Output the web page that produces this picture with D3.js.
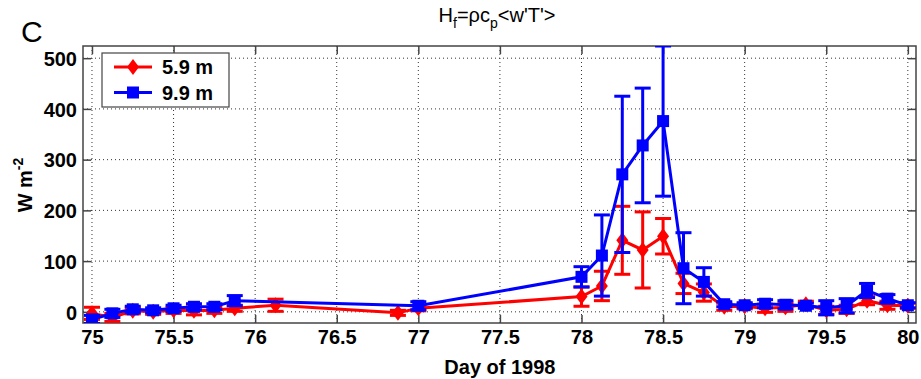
<!DOCTYPE html>
<html>
<head>
<meta charset="utf-8">
<script src="https://cdn.jsdelivr.net/npm/d3@7"></script>
<style>
  html, body { margin: 0; padding: 0; background: #fff; }
  svg { display: block; }
  text { font-family: "Liberation Sans", Arial, sans-serif; }
</style>
</head>
<body>
<svg id="chart" width="921" height="379"></svg>
<script>
// ---- data ----
const seriesNames = ["5.9 m", "9.9 m"];
const seriesColors = ["#ff0000", "#0000ff"];

const daysRed = [75.0, 75.125, 75.25, 75.375, 75.5, 75.625, 75.75, 75.875, 76.125, 76.875, 77.0,
                 78.0, 78.125, 78.25, 78.375, 78.5, 78.625, 78.75, 78.875,
                 79.0, 79.125, 79.25, 79.375, 79.5, 79.625, 79.75, 79.875, 80.0];
const valuesRed = [-3, -11, 2, 0, 3, 2, 3, 7, 13, -2, 7,
                   30, 51, 141, 122, 149, 56, 38, 10,
                   11, 7, 9, 15, 3, 5, 22, 13, 12];
const errorsRed = [12, 8, 6, 5, 6, 8, 6, 6, 12, 5, 5,
                   19, 29, 67, 75, 35, 20, 17, 7,
                   5, 8, 8, 6, 8, 8, 8, 8, 5];

const daysBlue = [75.0, 75.125, 75.25, 75.375, 75.5, 75.625, 75.75, 75.875, 77.0,
                  78.0, 78.125, 78.25, 78.375, 78.5, 78.625, 78.75, 78.875,
                  79.0, 79.125, 79.25, 79.375, 79.5, 79.625, 79.75, 79.875, 80.0];
const valuesBlue = [-15, -3, 5, 3, 7, 10, 10, 22, 12,
                    69, 111, 271, 328, 376, 86, 59, 15,
                    13, 16, 14, 12, 8, 12, 42, 26, 13];
const errorsBlue = [8, 8, 6, 5, 6, 6, 6, 10, 8,
                    20, 80, 154, 113, 148, 70, 28, 5,
                    5, 8, 8, 5, 14, 14, 14, 8, 5];

const xTicks = [75, 75.5, 76, 76.5, 77, 77.5, 78, 78.5, 79, 79.5, 80];
const yTicks = [0, 100, 200, 300, 400, 500];

// ---- layout ----
const svg = d3.select("#chart");
const L = 83, R = 916, T = 46, B = 323;
const x = d3.scaleLinear().domain([74.945, 80.05]).range([L, R]);
const y = d3.scaleLinear().domain([-22, 524]).range([B, T]);

svg.append("defs").append("clipPath").attr("id", "clip")
  .append("rect").attr("x", L).attr("y", T).attr("width", R - L).attr("height", B - T);

// grid
const grid = svg.append("g").attr("stroke", "#333").attr("stroke-width", 1)
  .attr("stroke-dasharray", "1,3");
grid.selectAll(".gx").data(xTicks).join("line")
  .attr("x1", d => x(d)).attr("x2", d => x(d)).attr("y1", T).attr("y2", B);
grid.selectAll(".gy").data(yTicks).join("line")
  .attr("x1", L).attr("x2", R).attr("y1", d => y(d)).attr("y2", d => y(d));

// axes
const axisColor = "#444";
const xAxisB = svg.append("g").attr("transform", `translate(0,${B})`)
  .call(d3.axisBottom(x).tickValues(xTicks).tickSizeInner(-8).tickSizeOuter(0).tickPadding(7)
    .tickFormat(d3.format("")));
const xAxisT = svg.append("g").attr("transform", `translate(0,${T})`)
  .call(d3.axisTop(x).tickValues(xTicks).tickSizeInner(-8).tickSizeOuter(0).tickFormat(""));
const yAxisL = svg.append("g").attr("transform", `translate(${L},0)`)
  .call(d3.axisLeft(y).tickValues(yTicks).tickSizeInner(-8).tickSizeOuter(0).tickPadding(6));
const yAxisR = svg.append("g").attr("transform", `translate(${R},0)`)
  .call(d3.axisRight(y).tickValues(yTicks).tickSizeInner(-8).tickSizeOuter(0).tickFormat(""));
[xAxisB, xAxisT, yAxisL, yAxisR].forEach(a => {
  a.selectAll("path").remove();
  a.selectAll("line").attr("stroke", axisColor).attr("stroke-width", 1.5);
  a.selectAll("text").attr("fill", "#000").style("font-size", "20px").style("font-weight", "bold")
    .style("font-family", "'Liberation Sans', Arial, sans-serif");
});
yAxisL.selectAll("text").attr("dy", "0.36em");
svg.append("rect").attr("x", L).attr("y", T).attr("width", R - L).attr("height", B - T)
  .attr("fill", "none").attr("stroke", axisColor).attr("stroke-width", 1.5);

// series
const series = [
  {days: daysRed, vals: valuesRed, errs: errorsRed, color: seriesColors[0], shape: "diamond"},
  {days: daysBlue, vals: valuesBlue, errs: errorsBlue, color: seriesColors[1], shape: "square"}
];
const plot = svg.append("g").attr("clip-path", "url(#clip)");
const line = d3.line().x(d => x(d[0])).y(d => y(d[1]));
const capW = 8;
function marker(sel, shape, cx, cy, color) {
  if (shape === "square") {
    sel.append("rect").attr("x", cx - 6).attr("y", cy - 6).attr("width", 12).attr("height", 12)
      .attr("fill", color);
  } else {
    sel.append("path").attr("d", `M${cx},${cy - 8}L${cx + 6},${cy}L${cx},${cy + 8}L${cx - 6},${cy}Z`)
      .attr("fill", color);
  }
}
series.forEach(s => {
  const pts = s.days.map((d, i) => [d, s.vals[i], s.errs[i]]);
  const g = plot.append("g");
  g.append("path").datum(pts).attr("d", line).attr("fill", "none")
    .attr("stroke", s.color).attr("stroke-width", 3);
  pts.forEach(p => {
    const cx = x(p[0]), yt = y(p[1] + p[2]), yb = y(p[1] - p[2]);
    g.append("line").attr("x1", cx).attr("x2", cx).attr("y1", yt).attr("y2", yb)
      .attr("stroke", s.color).attr("stroke-width", 3);
    g.append("line").attr("x1", cx - capW).attr("x2", cx + capW).attr("y1", yt).attr("y2", yt)
      .attr("stroke", s.color).attr("stroke-width", 3);
    g.append("line").attr("x1", cx - capW).attr("x2", cx + capW).attr("y1", yb).attr("y2", yb)
      .attr("stroke", s.color).attr("stroke-width", 3);
    marker(g, s.shape, cx, y(p[1]), s.color);
  });
});

// legend
const lg = svg.append("g");
lg.append("rect").attr("x", 102).attr("y", 53).attr("width", 127).attr("height", 54)
  .attr("fill", "#fff").attr("stroke", axisColor).attr("stroke-width", 1.2);
series.forEach((s, i) => {
  const ly = 67 + i * 25.5;
  lg.append("line").attr("x1", 114).attr("x2", 152).attr("y1", ly).attr("y2", ly)
    .attr("stroke", s.color).attr("stroke-width", 3);
  marker(lg, s.shape, 133, ly, s.color);
  lg.append("text").attr("x", 162).attr("y", ly).attr("dy", "0.36em")
    .style("font-size", "20px").style("font-weight", "bold").text(seriesNames[i]);
});

// labels
svg.append("text").attr("x", (x(75) + x(80)) / 2).attr("y", 374).attr("text-anchor", "middle")
  .style("font-size", "20px").style("font-weight", "bold")
  .text("Day of 1998");
const yl = svg.append("text").attr("transform", "translate(32,185) rotate(-90)")
  .attr("text-anchor", "middle").style("font-size", "20px").style("font-weight", "bold");
yl.append("tspan").text("W m");
yl.append("tspan").attr("dy", -9).style("font-size", "14px").text("-2");

const title = svg.append("text").attr("x", 497).attr("y", 22).attr("text-anchor", "middle")
  .style("font-size", "20px");
title.append("tspan").text("H");
title.append("tspan").attr("dy", 6).style("font-size", "14px").text("f");
title.append("tspan").attr("dy", -6).text("=ρc");
title.append("tspan").attr("dy", 6).style("font-size", "14px").text("p");
title.append("tspan").attr("dy", -6).text("<w'T'>");

svg.append("text").attr("x", 21).attr("y", 42).style("font-size", "30px")
  .style("font-family", "'Liberation Sans Narrow', 'Liberation Sans', Arial, sans-serif").text("C");
</script>
</body>
</html>
